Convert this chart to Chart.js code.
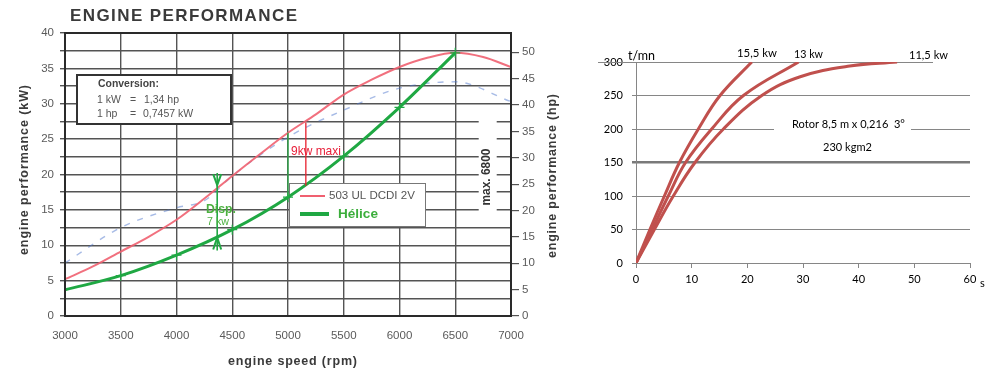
<!DOCTYPE html>
<html><head><meta charset="utf-8">
<script src="https://cdn.jsdelivr.net/npm/chart.js@4.4.1/dist/chart.umd.min.js"></script>
<style>
html,body{margin:0;padding:0;background:#fff;width:1004px;height:371px;overflow:hidden}
#a{position:absolute;left:0;top:0}
#b{position:absolute;left:575px;top:0}
</style></head><body>
<canvas id="a" width="575" height="371"></canvas>
<canvas id="b" width="429" height="371"></canvas>
<script>
// ---------- LEFT CHART DATA (engine performance) ----------
const engineRpm      = [3000,3250,3500,3750,4000,4250,4500,4750,5000,5250,5500,5750,6000,6250,6500,6750,7000];
const enginePowerKw  = [5.2,7.0,9.1,11.2,13.6,16.6,19.8,22.9,25.9,28.5,31.3,33.4,35.2,36.5,37.2,36.6,35.2];
const torqueRpm      = [3000,3500,4000,4250,4500,5000,5500,6000,6500,7000];
const torqueTrace    = [7.5,12.5,15.3,16.3,19.8,25.3,29.1,32.2,33.1,30.3];
const propRpm        = [3000,3500,4000,4500,5000,5500,6000,6500];
const propPowerKw    = [3.7,5.7,8.6,12.2,16.8,22.6,29.5,37.2];
const kwTicks        = [0,5,10,15,20,25,30,35,40];
const hpTicks        = [0,5,10,15,20,25,30,35,40,45,50];
const kwPerHp        = 0.7457;
const dispRpm = 4365, dispTopKw = 18.5, dispBottomKw = 11.1;
const maxiRpm = 5160, maxiTopKw = 27.3, maxiBottomKw = 18.4;
const refRpm  = 5000, refTopKw  = 25.9, refBottomKw  = 16.8;
const maxRpmLabel = 6800;

// ---------- RIGHT CHART DATA (rotor spin-up) ----------
const time155 = [0,2.5,5.1,7.8,11.2,15.1,20.8];
const rpm155  = [0,50,100,150,200,250,300];
const time13  = [0,2.9,5.8,8.9,13.6,19.3,29.2];
const rpm13   = [0,50,100,150,200,250,300];
const time115 = [0,3.3,6.7,10.6,15.7,22.6,29.5,38.4,46.9];
const rpm115  = [0,50,100,150,200,250,278,294,300];
const timeTicks = [0,10,20,30,40,50,60];
const rotorTicks = [0,50,100,150,200,250,300];

// ---------- helpers ----------
function spaced(ctx, text, x, y, target, align){
  const chars=[...text]; let w=0; const ws=chars.map(c=>{const m=ctx.measureText(c).width; w+=m; return m;});
  const ls = chars.length>1 ? (target-w)/(chars.length-1) : 0;
  let cx = align==='center' ? x-target/2 : x;
  ctx.textAlign='left';
  chars.forEach((c,i)=>{ctx.fillText(c,cx,y); cx+=ws[i]+ls;});
}
function fitFont(ctx, text, weight, family, base, target){
  ctx.font = `${weight} ${base}px ${family}`;
  const w = ctx.measureText(text).width;
  const s = Math.max(base*0.75, Math.min(base*1.3, base*target/w));
  ctx.font = `${weight} ${s}px ${family}`;
}

const LF = '"Liberation Sans", Arial, sans-serif';
const gridCol = '#545454';

const pluginA = {
  id:'annA',
  beforeDatasetsDraw(chart){
    const ctx=chart.ctx, X=v=>chart.scales.x.getPixelForValue(v);
    ctx.save();
    const mx = X(maxRpmLabel);
    ctx.fillStyle='#fff'; ctx.fillRect(mx-10,120,18,93);
    ctx.fillStyle='#fff'; ctx.fillRect(77,75,154,49);
    ctx.strokeStyle='#333'; ctx.lineWidth=2; ctx.strokeRect(77,75,154,49);
    ctx.fillStyle='#fff'; ctx.fillRect(289,183,136,43);
    ctx.strokeStyle='#777'; ctx.lineWidth=1; ctx.strokeRect(289.5,183.5,136,43);
    ctx.restore();
  },
  afterDatasetsDraw(chart){
    const ctx=chart.ctx, a=chart.chartArea, X=v=>chart.scales.x.getPixelForValue(v), Y=v=>chart.scales.y.getPixelForValue(v);
    ctx.save();
    ctx.strokeStyle='#2a2a2a'; ctx.lineWidth=2;
    ctx.strokeRect(a.left,a.top,a.right-a.left,a.bottom-a.top);
    ctx.strokeStyle='#2cae4a'; ctx.lineWidth=1.3;
    ctx.beginPath(); ctx.moveTo(X(refRpm),Y(refTopKw)); ctx.lineTo(X(refRpm),Y(refBottomKw)); ctx.stroke();
    ctx.strokeStyle='#e8202e'; ctx.lineWidth=1.3;
    ctx.beginPath(); ctx.moveTo(X(maxiRpm),Y(maxiTopKw)); ctx.lineTo(X(maxiRpm),Y(maxiBottomKw)); ctx.stroke();
    const dx=X(dispRpm), t=Y(dispTopKw), b=Y(dispBottomKw);
    ctx.strokeStyle='#22a845'; ctx.lineWidth=1.6;
    ctx.beginPath(); ctx.moveTo(dx,t-12); ctx.lineTo(dx,b+13); ctx.stroke();
    ctx.lineWidth=2;
    ctx.beginPath(); ctx.moveTo(dx-4,t-11); ctx.lineTo(dx,t); ctx.lineTo(dx+4,t-11); ctx.stroke();
    ctx.beginPath(); ctx.moveTo(dx-4,b+12); ctx.lineTo(dx,b); ctx.lineTo(dx+4,b+12); ctx.stroke();
    ctx.textBaseline='middle';
    ctx.fillStyle='#e8203a'; fitFont(ctx,'9kw maxi','normal',LF,11,50); ctx.textAlign='left'; ctx.fillText('9kw maxi',291,152);
    ctx.fillStyle='#4cb040'; fitFont(ctx,'Disp.','bold',LF,12,30); ctx.fillText('Disp.',206,210);
    fitFont(ctx,'7 kw','normal',LF,11,22); ctx.fillText('7 kw',207,222);
    ctx.save(); ctx.translate(X(maxRpmLabel)-2,177); ctx.rotate(-Math.PI/2);
    ctx.fillStyle='#333'; fitFont(ctx,'max. 6800','bold',LF,10,57); ctx.textAlign='center'; ctx.fillText('max. 6800',0,0);
    ctx.restore();
    ctx.fillStyle='#444'; ctx.textAlign='left';
    fitFont(ctx,'Conversion:','bold',LF,11,61); ctx.fillText('Conversion:',98,84);
    ctx.fillStyle='#555'; ctx.font=`normal 10.5px ${LF}`;
    ctx.fillText('1 kW',97,100); ctx.fillText('=',130,100); ctx.fillText('1,34 hp',144,100);
    ctx.fillText('1 hp',97,114); ctx.fillText('=',130,114); ctx.fillText('0,7457 kW',143,114);
    ctx.strokeStyle='#f06070'; ctx.lineWidth=2;
    ctx.beginPath(); ctx.moveTo(300,196); ctx.lineTo(325,196); ctx.stroke();
    ctx.fillStyle='#555'; fitFont(ctx,'503 UL DCDI 2V','normal',LF,11.5,86); ctx.fillText('503 UL DCDI 2V',329,196);
    ctx.strokeStyle='#1fa843'; ctx.lineWidth=4;
    ctx.beginPath(); ctx.moveTo(300,214); ctx.lineTo(329,214); ctx.stroke();
    ctx.fillStyle='#3cae3c'; fitFont(ctx,'Hélice','bold',LF,13,40); ctx.fillText('Hélice',338,214);
    ctx.restore();
  },
  afterDraw(chart){
    const ctx=chart.ctx; ctx.save();
    ctx.textBaseline='alphabetic';
    ctx.fillStyle='#3a3a3a'; ctx.font=`bold 17px ${LF}`;
    spaced(ctx,'ENGINE PERFORMANCE',70,21,227,'left');
    ctx.fillStyle='#3a3a3a'; ctx.font=`bold 12.5px ${LF}`;
    ctx.textBaseline='middle';
    spaced(ctx,'engine speed (rpm)',228,362,129,'left');
    ctx.save(); ctx.translate(25,170); ctx.rotate(-Math.PI/2);
    spaced(ctx,'engine performance (kW)',0,0,170,'center'); ctx.restore();
    ctx.save(); ctx.translate(553,176); ctx.rotate(-Math.PI/2);
    spaced(ctx,'engine performance (hp)',0,0,164,'center'); ctx.restore();
    ctx.restore();
  }
};

const tickFontA = {family:'Liberation Sans', size:11.5};
new Chart(document.getElementById('a'), {
  type:'scatter',
  data:{datasets:[
    {label:'Hélice', data:propRpm.map((x,i)=>({x,y:propPowerKw[i]})), showLine:true,
     borderColor:'#1fa843', borderWidth:3, cubicInterpolationMode:'monotone',
     pointStyle:'cross', pointRadius:c=>c.dataIndex===0?0:5, pointBorderWidth:1.2,
     pointBorderColor:'#1fa843', pointBackgroundColor:'#1fa843', order:0},
    {label:'503 UL DCDI 2V', data:engineRpm.map((x,i)=>({x,y:enginePowerKw[i]})), showLine:true,
     borderColor:'rgba(240,96,112,0.9)', borderWidth:2, pointRadius:0, cubicInterpolationMode:'monotone', order:1},
    {label:'trace', data:torqueRpm.map((x,i)=>({x,y:torqueTrace[i]})), showLine:true,
     borderColor:'rgba(80,120,205,0.5)', borderWidth:1.4, borderDash:[6,8], pointRadius:0, cubicInterpolationMode:'monotone', order:2}
  ]},
  options:{
    responsive:false, animation:false, devicePixelRatio:1,
    layout:{padding:{top:33,left:0,right:0,bottom:0}},
    plugins:{legend:{display:false}, tooltip:{enabled:false}},
    scales:{
      x:{type:'linear', min:3000, max:7000,
         ticks:{stepSize:500, autoSkip:false, maxRotation:0, color:'#5a5a5a', font:tickFontA, padding:13, callback:v=>String(v)},
         grid:{color:gridCol, lineWidth:1.4, drawTicks:false}, border:{display:false},
         afterFit:s=>{s.height=55;}},
      y:{position:'left', min:0, max:40,
         ticks:{stepSize:2.5, autoSkip:false, color:'#5a5a5a', font:tickFontA, padding:6,
                callback:v=> kwTicks.includes(v)?String(v):''},
         grid:{color:gridCol, lineWidth:1.4, tickLength:5}, border:{display:false},
         afterFit:s=>{s.width=65;}},
      y2:{position:'right', min:0, max:40/kwPerHp,
         afterBuildTicks:s=>{s.ticks=hpTicks.map(v=>({value:v}));},
         ticks:{autoSkip:false, color:'#5a5a5a', font:tickFontA, padding:3, callback:v=>String(v)},
         grid:{drawOnChartArea:false, color:gridCol, lineWidth:1.2, tickLength:8}, border:{display:false},
         afterFit:s=>{s.width=64;}}
    }
  },
  plugins:[pluginA]
});

// ---------- RIGHT CHART ----------
const CF = 'Lato, "Open Sans", sans-serif';
const rc = '#c0504d';
const pluginB = {
  id:'annB',
  beforeDatasetsDraw(chart){
    const ctx=chart.ctx, Y=v=>chart.scales.y.getPixelForValue(v);
    ctx.save();
    ctx.fillStyle='#fff'; ctx.fillRect(199,Y(200)-3,137,6);
    ctx.strokeStyle='#868686'; ctx.lineWidth=1;
    const y3=Math.round(Y(300))+0.5;
    ctx.beginPath(); ctx.moveTo(23,y3); ctx.lineTo(358,y3); ctx.stroke();
    ctx.restore();
  },
  afterDraw(chart){
    const ctx=chart.ctx; ctx.save();
    ctx.fillStyle='#000'; ctx.textBaseline='middle'; ctx.textAlign='left';
    const lab=(t,x,y,w)=>{fitFont(ctx,t,'normal',CF,12,w); ctx.fillText(t,x,y);};
    ctx.font=`normal 12.5px ${CF}`; ctx.fillText('t/mn',53,56);
    lab('15,5 kw',162,53,40);
    lab('13 kw',219,55,29);
    lab('11,5 kw',334,55,39);
    lab('Rotor 8,5 m x 0,216  3°',217,124,113);
    lab('230 kgm2',248,147,49);
    ctx.font=`normal 11px ${CF}`; ctx.fillText('s',405,283);
    ctx.restore();
  }
};
const tickFontB = {family:'Lato', size:11};
const curveStyle = {showLine:true, borderColor:rc, borderWidth:3, pointRadius:0, tension:0.4};
new Chart(document.getElementById('b'), {
  type:'scatter',
  data:{datasets:[
    Object.assign({data:time155.map((x,i)=>({x,y:rpm155[i]}))}, curveStyle),
    Object.assign({data:time13.map((x,i)=>({x,y:rpm13[i]}))}, curveStyle),
    Object.assign({data:time115.map((x,i)=>({x,y:rpm115[i]}))}, curveStyle)
  ]},
  options:{
    responsive:false, animation:false, devicePixelRatio:1,
    layout:{padding:{top:62,left:0,right:34,bottom:0}},
    plugins:{legend:{display:false}, tooltip:{enabled:false}},
    scales:{
      x:{type:'linear', min:0, max:60,
         afterBuildTicks:s=>{s.ticks=timeTicks.map(v=>({value:v}));},
         ticks:{autoSkip:false, maxRotation:0, color:'#000', font:tickFontB, padding:5},
         grid:{drawOnChartArea:false, color:'#868686', tickLength:5}, border:{color:'#868686', width:1},
         afterFit:s=>{s.height=108;}},
      y:{min:0, max:300,
         afterBuildTicks:s=>{s.ticks=rotorTicks.map(v=>({value:v}));},
         ticks:{autoSkip:false, color:'#000', font:tickFontB, padding:9},
         grid:{color:c=>(c.tick&&c.tick.value===300)?'rgba(0,0,0,0)':(c.tick&&c.tick.value===150?'#7a7a7a':'#868686'),
               lineWidth:c=>(c.tick&&c.tick.value===150)?2.5:1, tickLength:4},
         border:{color:'#868686', width:1},
         afterFit:s=>{s.width=61;}}
    }
  },
  plugins:[pluginB]
});
</script>
</body></html>
